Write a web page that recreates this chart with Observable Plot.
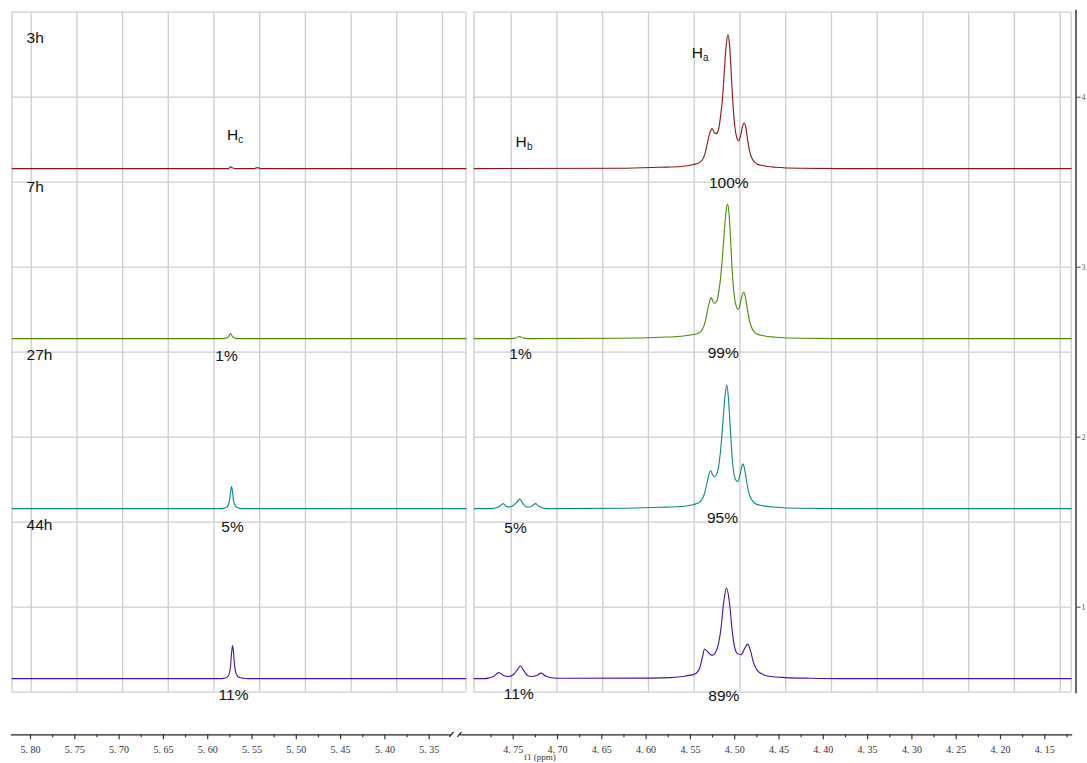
<!DOCTYPE html>
<html><head><meta charset="utf-8">
<script src="https://cdn.jsdelivr.net/npm/d3@7"></script>
<script src="https://cdn.jsdelivr.net/npm/@observablehq/plot@0.6"></script>
<style>
html,body{margin:0;padding:0;background:#fff;overflow:hidden}
#chart{position:relative;width:1087px;height:763px;overflow:hidden}
#chart svg{position:absolute;left:0;top:0}
</style></head><body><div id="chart"></div>
<script>
// ---------- data ----------
const times = ["3h", "7h", "27h", "44h"];
const baselines = [3.58, 2.58, 1.58, 0.58];          // stacking offset of each trace (axis units)
const colors = ["#8b1416", "#4d8a06", "#0b8684", "#4b1199"];

// [ppm, intensity above the trace's own baseline]
const trace3h = [
  [5.5765, 0], [5.5743, 0.010], [5.5709, 0.002], [5.5675, 0],
  [5.5472, 0], [5.5438, 0.006], [5.5404, 0],
  [4.6289, 0.002], [4.5838, 0.008], [4.5612, 0.012], [4.5465, 0.024], [4.5397, 0.035], [4.5363, 0.053],
  [4.5335, 0.088], [4.5307, 0.153], [4.5279, 0.212], [4.5254, 0.235], [4.5228, 0.209], [4.5205, 0.206],
  [4.5183, 0.229], [4.5160, 0.306], [4.5138, 0.412], [4.5115, 0.588], [4.5095, 0.729], [4.5076, 0.788],
  [4.5059, 0.729], [4.5042, 0.588], [4.5025, 0.424], [4.5002, 0.265], [4.4980, 0.188], [4.4954, 0.162],
  [4.4929, 0.206], [4.4912, 0.247], [4.4893, 0.268], [4.4872, 0.235], [4.4856, 0.176], [4.4833, 0.106],
  [4.4799, 0.053], [4.4754, 0.029], [4.4686, 0.018], [4.4540, 0.008], [4.4257, 0.002], [4.3806, 0]
];
const trace7h = [
  [5.5833, 0], [5.5788, 0.003], [5.5765, 0.012], [5.5743, 0.029], [5.5720, 0.012], [5.5698, 0.003], [5.5664, 0],
  [4.7520, 0], [4.7474, 0.003], [4.7429, 0.012], [4.7384, 0.003], [4.7339, 0],
  [4.6289, 0.002], [4.5838, 0.008], [4.5612, 0.014], [4.5465, 0.024], [4.5397, 0.035], [4.5363, 0.056],
  [4.5335, 0.094], [4.5307, 0.165], [4.5284, 0.218], [4.5265, 0.241], [4.5245, 0.218], [4.5228, 0.208],
  [4.5205, 0.218], [4.5183, 0.265], [4.5160, 0.353], [4.5138, 0.482], [4.5115, 0.647], [4.5098, 0.747],
  [4.5081, 0.792], [4.5064, 0.735], [4.5047, 0.588], [4.5031, 0.424], [4.5008, 0.265], [4.4985, 0.194],
  [4.4957, 0.171], [4.4935, 0.212], [4.4914, 0.259], [4.4897, 0.272], [4.4878, 0.241], [4.4858, 0.176],
  [4.4833, 0.106], [4.4799, 0.053], [4.4754, 0.029], [4.4686, 0.018], [4.4540, 0.008], [4.4257, 0.002], [4.3806, 0]
];
const trace27h = [
  [5.5833, 0], [5.5810, 0.003], [5.5777, 0.012], [5.5754, 0.047], [5.5743, 0.094], [5.5731, 0.129],
  [5.5720, 0.100], [5.5709, 0.047], [5.5686, 0.015], [5.5652, 0.003], [5.5619, 0],
  [4.7745, 0], [4.7700, 0.003], [4.7655, 0.012], [4.7613, 0.029], [4.7576, 0.012], [4.7542, 0.009],
  [4.7508, 0.015], [4.7463, 0.035], [4.7426, 0.056], [4.7389, 0.029], [4.7350, 0.009], [4.7316, 0.009],
  [4.7282, 0.018], [4.7245, 0.029], [4.7214, 0.015], [4.7169, 0.003], [4.7124, 0],
  [4.6289, 0.002], [4.5838, 0.008], [4.5612, 0.012], [4.5465, 0.024], [4.5397, 0.038], [4.5363, 0.059],
  [4.5335, 0.100], [4.5307, 0.165], [4.5273, 0.224], [4.5247, 0.197], [4.5225, 0.188], [4.5200, 0.206],
  [4.5177, 0.265], [4.5155, 0.365], [4.5132, 0.518], [4.5110, 0.659], [4.5089, 0.728], [4.5072, 0.659],
  [4.5055, 0.518], [4.5036, 0.353], [4.5014, 0.224], [4.4991, 0.171], [4.4965, 0.159], [4.4940, 0.200],
  [4.4923, 0.241], [4.4909, 0.263], [4.4889, 0.235], [4.4869, 0.171], [4.4844, 0.100], [4.4810, 0.053],
  [4.4765, 0.029], [4.4698, 0.018], [4.4540, 0.008], [4.4257, 0.002], [4.3806, 0]
];
const trace44h = [
  [5.5844, 0], [5.5799, 0.003], [5.5765, 0.018], [5.5743, 0.071], [5.5731, 0.147], [5.5720, 0.194],
  [5.5709, 0.159], [5.5698, 0.082], [5.5675, 0.024], [5.5641, 0.006], [5.5596, 0.002], [5.5551, 0],
  [4.7824, 0], [4.7779, 0.003], [4.7722, 0.012], [4.7663, 0.035], [4.7609, 0.018], [4.7553, 0.012],
  [4.7497, 0.024], [4.7451, 0.053], [4.7418, 0.076], [4.7384, 0.050], [4.7339, 0.018], [4.7293, 0.012],
  [4.7237, 0.018], [4.7184, 0.032], [4.7135, 0.015], [4.7079, 0.006], [4.7011, 0.002],
  [4.5950, 0.003], [4.5725, 0.006], [4.5555, 0.015], [4.5442, 0.029], [4.5397, 0.059], [4.5363, 0.129],
  [4.5341, 0.174], [4.5307, 0.159], [4.5273, 0.141], [4.5247, 0.138], [4.5217, 0.153], [4.5183, 0.206],
  [4.5155, 0.294], [4.5126, 0.441], [4.5093, 0.532], [4.5059, 0.447], [4.5031, 0.294], [4.5002, 0.188],
  [4.4968, 0.147], [4.4927, 0.141], [4.4889, 0.176], [4.4852, 0.203], [4.4822, 0.165], [4.4788, 0.094],
  [4.4743, 0.047], [4.4686, 0.026], [4.4596, 0.012], [4.4427, 0.006], [4.4145, 0.002], [4.3806, 0]
];
const traces = [trace3h, trace7h, trace27h, trace44h];

// annotations (ppm, axis value)
const timeLabelPpm = 5.8045;
const timeLabelV = [4.347, 3.469, 2.481, 1.486];
const protonLabels = [
  {main: "H", sub: "c", ppm: 5.5720, v: 3.775},
  {main: "H", sub: "b", ppm: 4.7410, v: 3.735},
  {main: "H", sub: "a", ppm: 4.5423, v: 4.259}
];
const percentLabels = [
  {text: "1%", ppm: 5.5788, v: 2.475}, {text: "5%", ppm: 5.5720, v: 1.469}, {text: "11%", ppm: 5.5709, v: 0.481},
  {text: "100%", ppm: 4.5067, v: 3.494}, {text: "99%", ppm: 4.5130, v: 2.497}, {text: "95%", ppm: 4.5138, v: 1.522},
  {text: "89%", ppm: 4.5123, v: 0.475}, {text: "1%", ppm: 4.7418, v: 2.492}, {text: "5%", ppm: 4.7474, v: 1.465},
  {text: "11%", ppm: 4.7437, v: 0.487}
];
const axisTitle = "f1 (ppm)";

// panels, grid and axis ticks
const leftPanel = [5.8207, 5.3085];
const rightPanel = [4.7942, 4.1202];
const gridY = [0.5, 1, 1.5, 2, 2.5, 3, 3.5, 4, 4.5];
const gridLeft = [5.7992, 5.7476, 5.6960, 5.6445, 5.5929, 5.5413, 5.4897, 5.4381, 5.3866, 5.3350];
const gridRight = [4.7523, 4.7006, 4.6490, 4.5973, 4.5457, 4.4941, 4.4424, 4.3908, 4.3392, 4.2875, 4.2359, 4.1843, 4.1326];
const ticksLeft = [5.80, 5.75, 5.70, 5.65, 5.60, 5.55, 5.50, 5.45, 5.40, 5.35];
const minorLeft = [5.775, 5.725, 5.675, 5.625, 5.575, 5.525, 5.475, 5.425, 5.375];
const ticksRight = [4.75, 4.70, 4.65, 4.60, 4.55, 4.50, 4.45, 4.40, 4.35, 4.30, 4.25, 4.20, 4.15];
const minorRight = [4.775, 4.725, 4.675, 4.625, 4.575, 4.525, 4.475, 4.425, 4.375, 4.325, 4.275, 4.225, 4.175, 4.125];
const ticksY = [1, 2, 3, 4];
const breakLeft = [{x1: 5.3271, y1: 0.2365, x2: 5.3226, y2: 0.2660}];
const breakRight = [{x1: 4.8129, y1: 0.2365, x2: 4.8084, y2: 0.2660}];

// ---------- drawing ----------
const W = 1087, H = 763;
const SANS = "'Liberation Sans', Arial, sans-serif";
const SERIF = "'Liberation Serif', 'DejaVu Serif', serif";
const GRID = "#cdcdcd";
const fmt = d => d.toFixed(2).replace(".", ". ");

function panelRows([hi, lo]) {
  const rows = [];
  times.forEach((t, i) => {
    const pts = traces[i].filter(d => d[0] < hi && d[0] > lo);
    const all = [[hi, 0], ...pts, [lo, 0]].sort((a, b) => b[0] - a[0]);
    for (const [ppm, h] of all) rows.push({time: t, ppm, v: baselines[i] + h});
  });
  return rows;
}
const inPanel = ([hi, lo]) => d => d.ppm < hi && d.ppm > lo;

function commonMarks(panel, gridX) {
  return [
    Plot.ruleX([...gridX, ...panel], {y1: 0.5, y2: 4.5, stroke: GRID, strokeWidth: 1.3}),
    Plot.ruleY(gridY, {x1: panel[0], x2: panel[1], stroke: GRID, strokeWidth: 1.3}),
    Plot.line(panelRows(panel), {x: "ppm", y: "v", z: "time", stroke: "time", strokeWidth: 1.1, curve: "monotone-x"}),
    Plot.text(protonLabels.filter(inPanel(panel)), {x: "ppm", y: "v", text: "main", fontSize: 15.5, fontFamily: SANS, fill: "#111"}),
    Plot.text(protonLabels.filter(inPanel(panel)), {x: "ppm", y: "v", text: "sub", dx: 5.8, dy: 4.3, textAnchor: "start", fontSize: 10, fontFamily: SANS, fill: "#111"}),
    Plot.text(percentLabels.filter(inPanel(panel)), {x: "ppm", y: "v", text: "text", fontSize: 15.5, fontFamily: SANS, fill: "#111"})
  ];
}
function axisMarks(ticks, minor) {
  return [
    Plot.axisX(ticks, {anchor: "bottom", tickSize: 5, tickPadding: 6, tickFormat: fmt, fontSize: 10, fontFamily: SERIF, color: "#333", strokeWidth: 1.2, label: null}),
    Plot.axisX(minor, {anchor: "bottom", tickSize: 3, tickFormat: () => "", color: "#333", strokeWidth: 1.2, label: null})
  ];
}
const yOpts = {domain: [0.5, 4.5], range: [691.7, 11.7]};
const colorOpts = {domain: times, range: colors};

const left = Plot.plot({
  width: W, height: H,
  marginTop: 0, marginLeft: 11, marginRight: 637, marginBottom: 28.7,
  style: {background: "transparent", overflow: "visible"},
  x: {domain: [5.80, 5.35], range: [30, 428.7], label: null},
  y: {...yOpts, axis: null, label: null},
  color: colorOpts,
  marks: [
    ...commonMarks(leftPanel, gridLeft),
    Plot.text(times, {x: () => timeLabelPpm, y: (d, i) => timeLabelV[i], text: d => d, textAnchor: "start", fontSize: 15.5, fontFamily: SANS, fill: "#111"}),
    ...axisMarks(ticksLeft, minorLeft),
    Plot.frame({anchor: "bottom", stroke: "#222", strokeWidth: 1.3}),
    Plot.link(breakLeft, {x1: "x1", y1: "y1", x2: "x2", y2: "y2", stroke: "#222", strokeWidth: 1.2})
  ]
});

const right = Plot.plot({
  width: W, height: H,
  marginTop: 10, marginLeft: 460, marginRight: 11.5, marginBottom: 28.7,
  style: {background: "transparent", overflow: "visible"},
  x: {domain: [4.75, 4.15], range: [512.7, 1044.3], label: null},
  y: {...yOpts, label: null},
  color: colorOpts,
  marks: [
    ...commonMarks(rightPanel, gridRight),
    ...axisMarks(ticksRight, minorRight),
    Plot.frame({anchor: "bottom", insetRight: 4.5, stroke: "#222", strokeWidth: 1.3}),
    Plot.frame({anchor: "right", insetBottom: 42.3, stroke: "#444", strokeWidth: 1.6}),
    Plot.axisY(ticksY, {anchor: "right", tickSize: 4, tickPadding: 1.5, tickFormat: d => String(d), fontSize: 8, fontFamily: SERIF, fill: "#555", stroke: "#444", label: null}),
    Plot.link(breakRight, {x1: "x1", y1: "y1", x2: "x2", y2: "y2", stroke: "#222", strokeWidth: 1.2}),
    Plot.text([axisTitle], {x: () => 4.7200, frameAnchor: "bottom", dy: 25.5, text: d => d, fontSize: 9, fontFamily: SERIF, fill: "#333"})
  ]
});

const chart = document.getElementById("chart");
chart.appendChild(left);
chart.appendChild(right);
</script></body></html>
